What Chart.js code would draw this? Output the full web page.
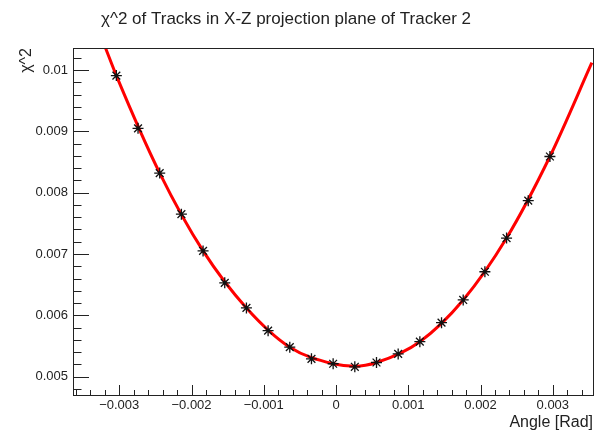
<!DOCTYPE html>
<html>
<head>
<meta charset="utf-8">
<script src="https://cdn.jsdelivr.net/npm/chart.js@4/dist/chart.umd.min.js"></script>
<style>
  html, body { margin: 0; padding: 0; background: #fff; }
  #wrap { width: 595px; height: 434px; position: relative; }
</style>
</head>
<body>
<div id="wrap"><canvas id="chi2Chart"></canvas></div>
<script>
// measured chi^2 per angle step
const angles = [
  -0.00304, -0.00274, -0.00244, -0.00214, -0.00184, -0.00154, -0.00124,
  -0.00094, -0.00064, -0.00034, -0.00004, 0.00026, 0.00056, 0.00086,
  0.00116, 0.00146, 0.00176, 0.00206, 0.00236, 0.00266, 0.00296,
];
const chi2 = [
  0.00991, 0.00905, 0.00832, 0.00765, 0.00705, 0.00653, 0.00612,
  0.00575, 0.00548, 0.00529, 0.00521, 0.00516, 0.00523, 0.00537,
  0.00557, 0.00588, 0.00625, 0.00671, 0.00726, 0.00787, 0.00859,
];

// parabola fit, sampled along the drawn curve
const fitAngles = [
  -0.00319, -0.00304, -0.00244, -0.00184, -0.00124, -0.00064, -0.00004,
  0.00026, 0.00056, 0.00116, 0.00176, 0.00236, 0.00296, 0.00354,
];
const fitChi2 = [
  0.01036, 0.00991, 0.00832, 0.00705, 0.00612, 0.00548, 0.00521,
  0.00517, 0.00523, 0.00557, 0.00625, 0.00726, 0.00859, 0.01012,
];

const xRange = { min: -0.00364, max: 0.00357 };
const yRange = { min: 0.0047, max: 0.01036 };

const FONT = "'Liberation Sans', Arial, Helvetica, sans-serif";
const INK = "#222";

function fmtTick(v) {
  const s = String(Number(v.toFixed(4)));
  return s.startsWith("-") ? "\u2212" + s.slice(1) : s;
}

// ROOT style frame: inward major/minor ticks, titles
const rootFrame = {
  id: "rootFrame",
  afterDatasetsDraw(chart) {
    const { ctx, chartArea: a, scales } = chart;
    const xs = scales.x;
    const ys = scales.y;
    ctx.save();
    ctx.strokeStyle = INK;
    ctx.lineWidth = 1;
    ctx.strokeRect(a.left + 0.5, a.top + 0.5, a.right - a.left - 1, a.bottom - a.top);

    ctx.beginPath();
    const xStep = 0.0002;
    for (let i = Math.ceil(xRange.min / xStep - 1e-6); i * xStep <= xRange.max + 1e-9; i++) {
      const px = Math.round(xs.getPixelForValue(i * xStep)) + 0.5;
      const len = i % 5 === 0 ? 10 : 5;
      ctx.moveTo(px, a.bottom);
      ctx.lineTo(px, a.bottom - len);
    }
    const yStep = 0.0002;
    for (let i = Math.ceil(yRange.min / yStep - 1e-6); i * yStep <= yRange.max + 1e-9; i++) {
      const py = Math.round(ys.getPixelForValue(i * yStep)) + 0.5;
      const len = i % 5 === 0 ? 16 : 8.5;
      ctx.moveTo(a.left, py);
      ctx.lineTo(a.left + len, py);
    }
    ctx.stroke();
    ctx.restore();
  },
  afterDraw(chart) {
    const { ctx, chartArea: a } = chart;
    ctx.save();
    ctx.fillStyle = INK;
    ctx.textBaseline = "alphabetic";

    ctx.font = "17px " + FONT;
    ctx.textAlign = "center";
    ctx.fillText("\u03c7^2 of Tracks in X-Z projection plane of Tracker 2", 286, 24);

    ctx.font = "16px " + FONT;
    ctx.textAlign = "right";
    ctx.fillText("Angle [Rad]", a.right - 1, 427);

    ctx.translate(31, a.top);
    ctx.rotate(-Math.PI / 2);
    ctx.textAlign = "right";
    ctx.fillText("\u03c7^2", 0, 0);
    ctx.restore();
  },
};

new Chart(document.getElementById("chi2Chart"), {
  type: "scatter",
  data: {
    datasets: [
      {
        label: "data",
        data: angles.map((x, i) => ({ x, y: chi2[i] })),
        pointStyle: "star",
        pointRadius: 5.5,
        pointBorderWidth: 1.3,
        borderColor: "#111",
        backgroundColor: "#111",
        showLine: false,
        order: 0,
      },
      {
        label: "fit",
        data: fitAngles.map((x, i) => ({ x, y: fitChi2[i] })),
        showLine: true,
        borderColor: "#ff0000",
        borderWidth: 3,
        pointRadius: 0,
        cubicInterpolationMode: "monotone",
        order: 1,
      },
    ],
  },
  options: {
    responsive: true,
    maintainAspectRatio: false,
    animation: false,
    layout: { autoPadding: false, padding: { top: 48, right: 1, left: 0, bottom: 0 } },
    plugins: {
      legend: { display: false },
      title: { display: false },
      tooltip: { enabled: false },
    },
    scales: {
      x: {
        type: "linear",
        min: xRange.min,
        max: xRange.max,
        grid: { display: false, drawTicks: false },
        border: { display: false },
        afterFit: (scale) => { scale.height = 39; },
        ticks: {
          stepSize: 0.001,
          includeBounds: false,
          maxRotation: 0,
          autoSkip: false,
          padding: 3,
          color: INK,
          font: { family: FONT, size: 13 },
          callback: (v) => fmtTick(v),
        },
      },
      y: {
        type: "linear",
        min: yRange.min,
        max: yRange.max,
        grid: { display: false, drawTicks: false },
        border: { display: false },
        afterFit: (scale) => { scale.width = 73; },
        ticks: {
          stepSize: 0.001,
          includeBounds: false,
          autoSkip: false,
          padding: 5,
          color: INK,
          font: { family: FONT, size: 13 },
          callback: (v) => fmtTick(v),
        },
      },
    },
  },
  plugins: [rootFrame],
});
</script>
</body>
</html>
